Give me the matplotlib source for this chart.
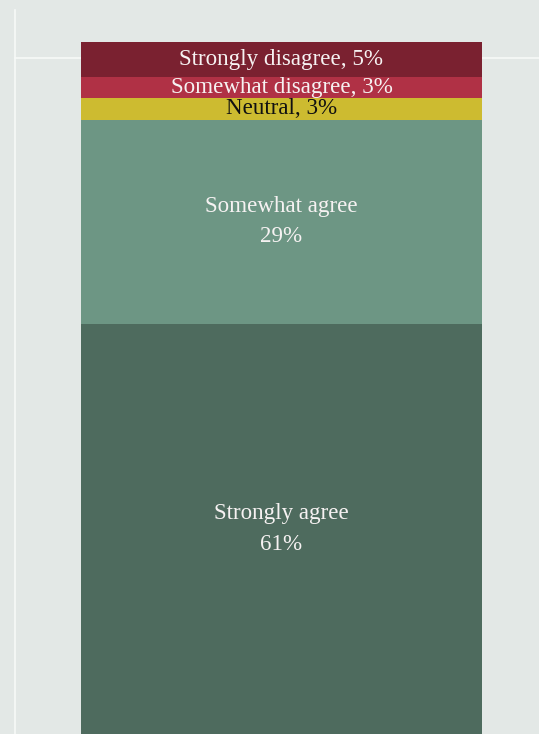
import matplotlib
matplotlib.use("Agg")
import matplotlib.pyplot as plt
from matplotlib.lines import Line2D

# Survey response shares (percent), listed top to bottom of the stacked bar
categories = ["Strongly disagree", "Somewhat disagree", "Neutral", "Somewhat agree", "Strongly agree"]
values = [5, 3, 3, 29, 61]
colors = ["#7a2130", "#b03145", "#cdbb30", "#6d9684", "#4e6b5e"]
text_colors = ["#f6f2f2", "#f6f2f2", "#111111", "#f6f2f2", "#f6f2f2"]
inline_label = [True, True, True, False, False]

BG = "#e3e8e6"
W, H = 539, 734
fig = plt.figure(figsize=(W / 100, H / 100), dpi=100, facecolor=BG)
ax = fig.add_axes([0, 0, 1, 1])
ax.set_facecolor(BG)

# light grid lines of the plotting frame
fig.add_artist(Line2D([15 / W, 15 / W], [0, 1 - 10 / H], color="#f7f9f8", lw=1.2, zorder=0))
fig.add_artist(Line2D([15 / W, 1], [1 - 58 / H, 1 - 58 / H], color="#f7f9f8", lw=1.2, zorder=0))

bottom = 0
bottoms = []
for v, c in zip(values, colors):
    ax.bar(0, v, bottom=bottom, width=1.0, color=c, edgecolor="none", zorder=2)
    bottoms.append(bottom)
    bottom += v

# y axis runs downward from the top of the bar
px_per = (324 - 42) / 40.0
y_top = -42 / px_per
y_bot = y_top + H / px_per
ax.set_ylim(y_bot, y_top)
left = -0.5 - 81 / 401
right = 0.5 + (W - 482) / 401
ax.set_xlim(left, right)
ax.axis("off")

font = dict(family="Liberation Serif", fontsize=16.6)
for cat, v, b, tc, inl in zip(categories, values, bottoms, text_colors, inline_label):
    lo = b
    hi = min(b + v, y_bot)
    yc = (lo + hi) / 2
    if inl:
        txt = f"{cat}, {v}%"
    else:
        txt = f"{cat}\n{v}%"
    ax.text(0, yc, txt, ha="center", va="center", color=tc, linespacing=1.58, zorder=3, **font)

fig.savefig("out.png", dpi=100, facecolor=BG)
